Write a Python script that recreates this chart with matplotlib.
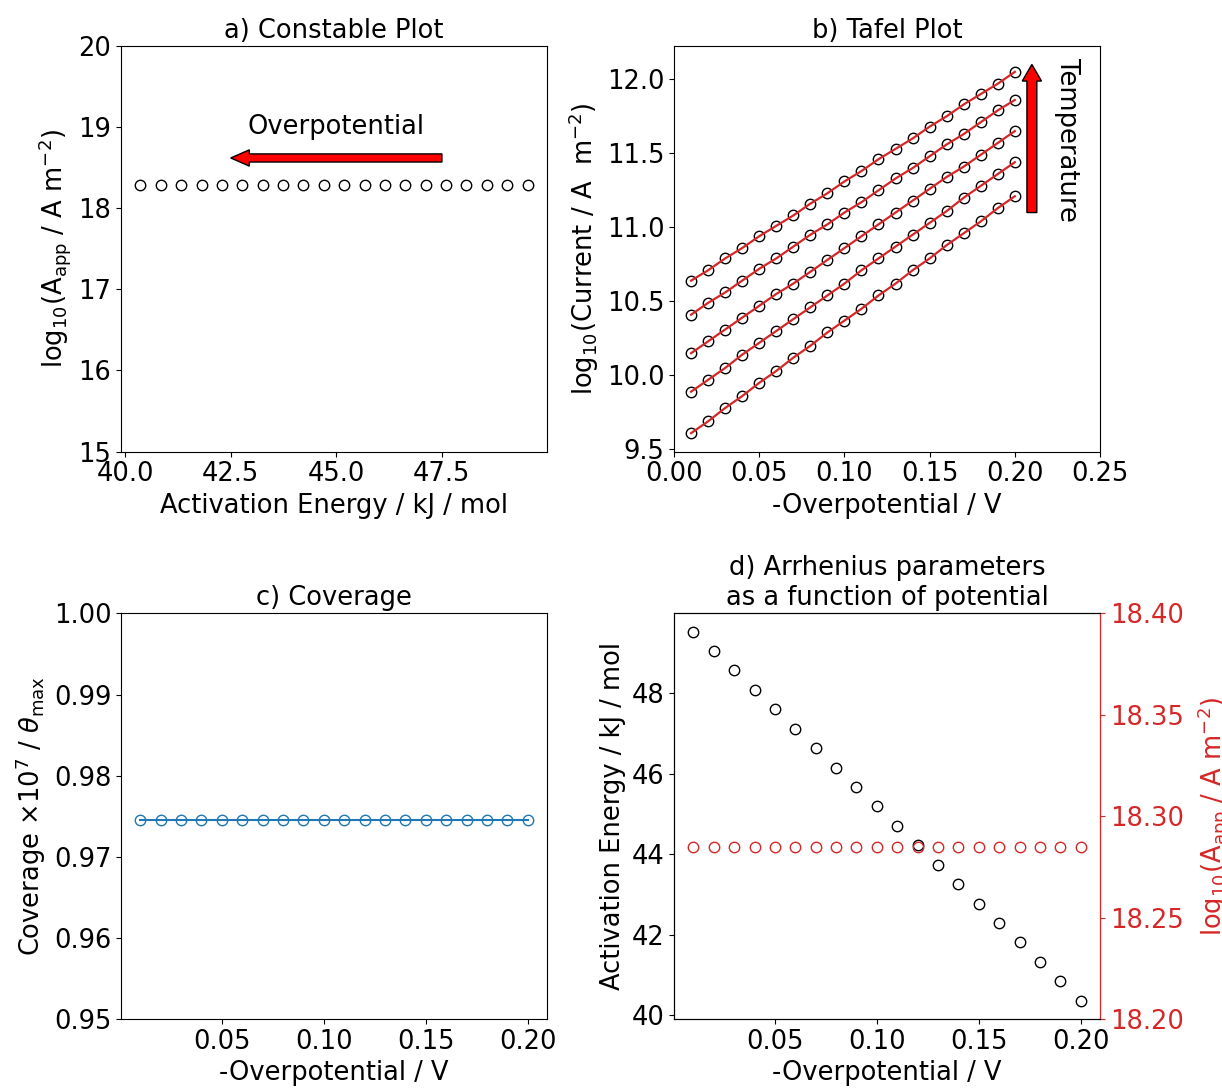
import numpy as np
import matplotlib
matplotlib.use("Agg")
import matplotlib.pyplot as plt

plt.rcParams['font.size'] = 18.5
plt.rcParams['axes.titlesize'] = 18.5

# overpotential points (V)
eta = [0.01, 0.02, 0.03, 0.04, 0.05, 0.06, 0.07, 0.08, 0.09, 0.10,
       0.11, 0.12, 0.13, 0.14, 0.15, 0.16, 0.17, 0.18, 0.19, 0.20]

# apparent activation energy at each overpotential (kJ/mol)
Ea = [49.53, 49.05, 48.57, 48.08, 47.60, 47.12, 46.63, 46.15, 45.67, 45.19,
      44.70, 44.22, 43.74, 43.26, 42.77, 42.29, 41.81, 41.33, 40.84, 40.36]

# log10 of apparent pre-exponential factor
logA = [18.285] * 20

# coverage (x 1e7 / theta_max)
coverage = [0.9745] * 20

# Tafel curves, one per temperature (lowest first)
tafel_1 = [9.61, 9.69, 9.78, 9.86, 9.95, 10.03, 10.12, 10.20, 10.29, 10.37,
           10.45, 10.54, 10.62, 10.71, 10.79, 10.88, 10.96, 11.04, 11.13, 11.21]
tafel_2 = [9.89, 9.97, 10.05, 10.14, 10.22, 10.30, 10.38, 10.46, 10.54, 10.62,
           10.71, 10.79, 10.87, 10.95, 11.03, 11.11, 11.20, 11.28, 11.36, 11.44]
tafel_3 = [10.15, 10.23, 10.31, 10.39, 10.47, 10.55, 10.62, 10.70, 10.78, 10.86,
           10.94, 11.02, 11.10, 11.18, 11.26, 11.34, 11.41, 11.49, 11.57, 11.65]
tafel_4 = [10.41, 10.49, 10.56, 10.64, 10.72, 10.79, 10.87, 10.95, 11.02, 11.10,
           11.17, 11.25, 11.33, 11.40, 11.48, 11.56, 11.63, 11.71, 11.79, 11.86]
tafel_5 = [10.64, 10.71, 10.79, 10.86, 10.94, 11.01, 11.08, 11.16, 11.23, 11.31,
           11.38, 11.46, 11.53, 11.60, 11.68, 11.75, 11.83, 11.90, 11.97, 12.05]
tafel = [tafel_1, tafel_2, tafel_3, tafel_4, tafel_5]

ms = 7.5
fig, axes = plt.subplots(2, 2, figsize=(12.22, 10.88), dpi=100)
plt.subplots_adjust(left=0.099, right=0.9002, bottom=0.0634, top=0.9577,
                    wspace=0.298, hspace=0.399)

# a) Constable plot
ax = axes[0, 0]
ax.plot(Ea, logA, 'o', mfc='none', mec='k', ms=ms)
ax.set_ylim(15, 20)
ax.arrow(47.5, 18.62, -5.0, 0, width=0.1, head_width=0.2, head_length=0.44,
         length_includes_head=True, fc='red', ec='k')
ax.text(45, 19.0, 'Overpotential', ha='center', va='center')
ax.set_xlabel('Activation Energy / kJ / mol')
ax.set_ylabel(r'log$_{10}$(A$_{\rm app}$ / A m$^{-2}$)')
ax.set_title('a) Constable Plot')

# b) Tafel plot
ax = axes[0, 1]
for curve in tafel:
    ax.plot(eta, curve, 'o', mfc='none', mec='k', ms=ms)
    ax.plot(eta, curve, color='tab:red', lw=1.6)
ax.set_xlim(0, 0.25)
ax.arrow(0.21, 11.1, 0, 1.0, width=0.0058, head_width=0.0113, head_length=0.112,
         length_includes_head=True, fc='red', ec='k')
ax.text(0.2307, 11.59, 'Temperature', rotation=270, ha='center', va='center')
ax.set_xlabel('-Overpotential / V')
ax.set_ylabel(r'log$_{10}$(Current / A  m$^{-2}$)')
ax.set_title('b) Tafel Plot')

# c) coverage
ax = axes[1, 0]
ax.plot(eta, coverage, 'o-', color='tab:blue', mfc='none', ms=ms)
ax.set_ylim(0.95, 1.0)
ax.set_xlabel('-Overpotential / V')
ax.set_ylabel(r'Coverage $\times10^7$ / $\theta_{\rm max}$')
ax.set_title('c) Coverage')

# d) Arrhenius parameters vs potential
ax = axes[1, 1]
ax.plot(eta, Ea, 'o', mfc='none', mec='k', ms=ms)
ax.set_xlabel('-Overpotential / V')
ax.set_ylabel('Activation Energy / kJ / mol')
ax.set_title('d) Arrhenius parameters\nas a function of potential')
ax2 = ax.twinx()
ax2.plot(eta, logA, 'o', mfc='none', mec='tab:red', ms=ms)
ax2.set_ylim(18.2, 18.4)
ax2.set_ylabel(r'log$_{10}$(A$_{\rm app}$ / A m$^{-2}$)', color='tab:red',
               labelpad=8)
ax2.tick_params(axis='y', colors='tab:red')
ax2.spines['right'].set_color('tab:red')

fig.savefig('out.png', dpi=100)
